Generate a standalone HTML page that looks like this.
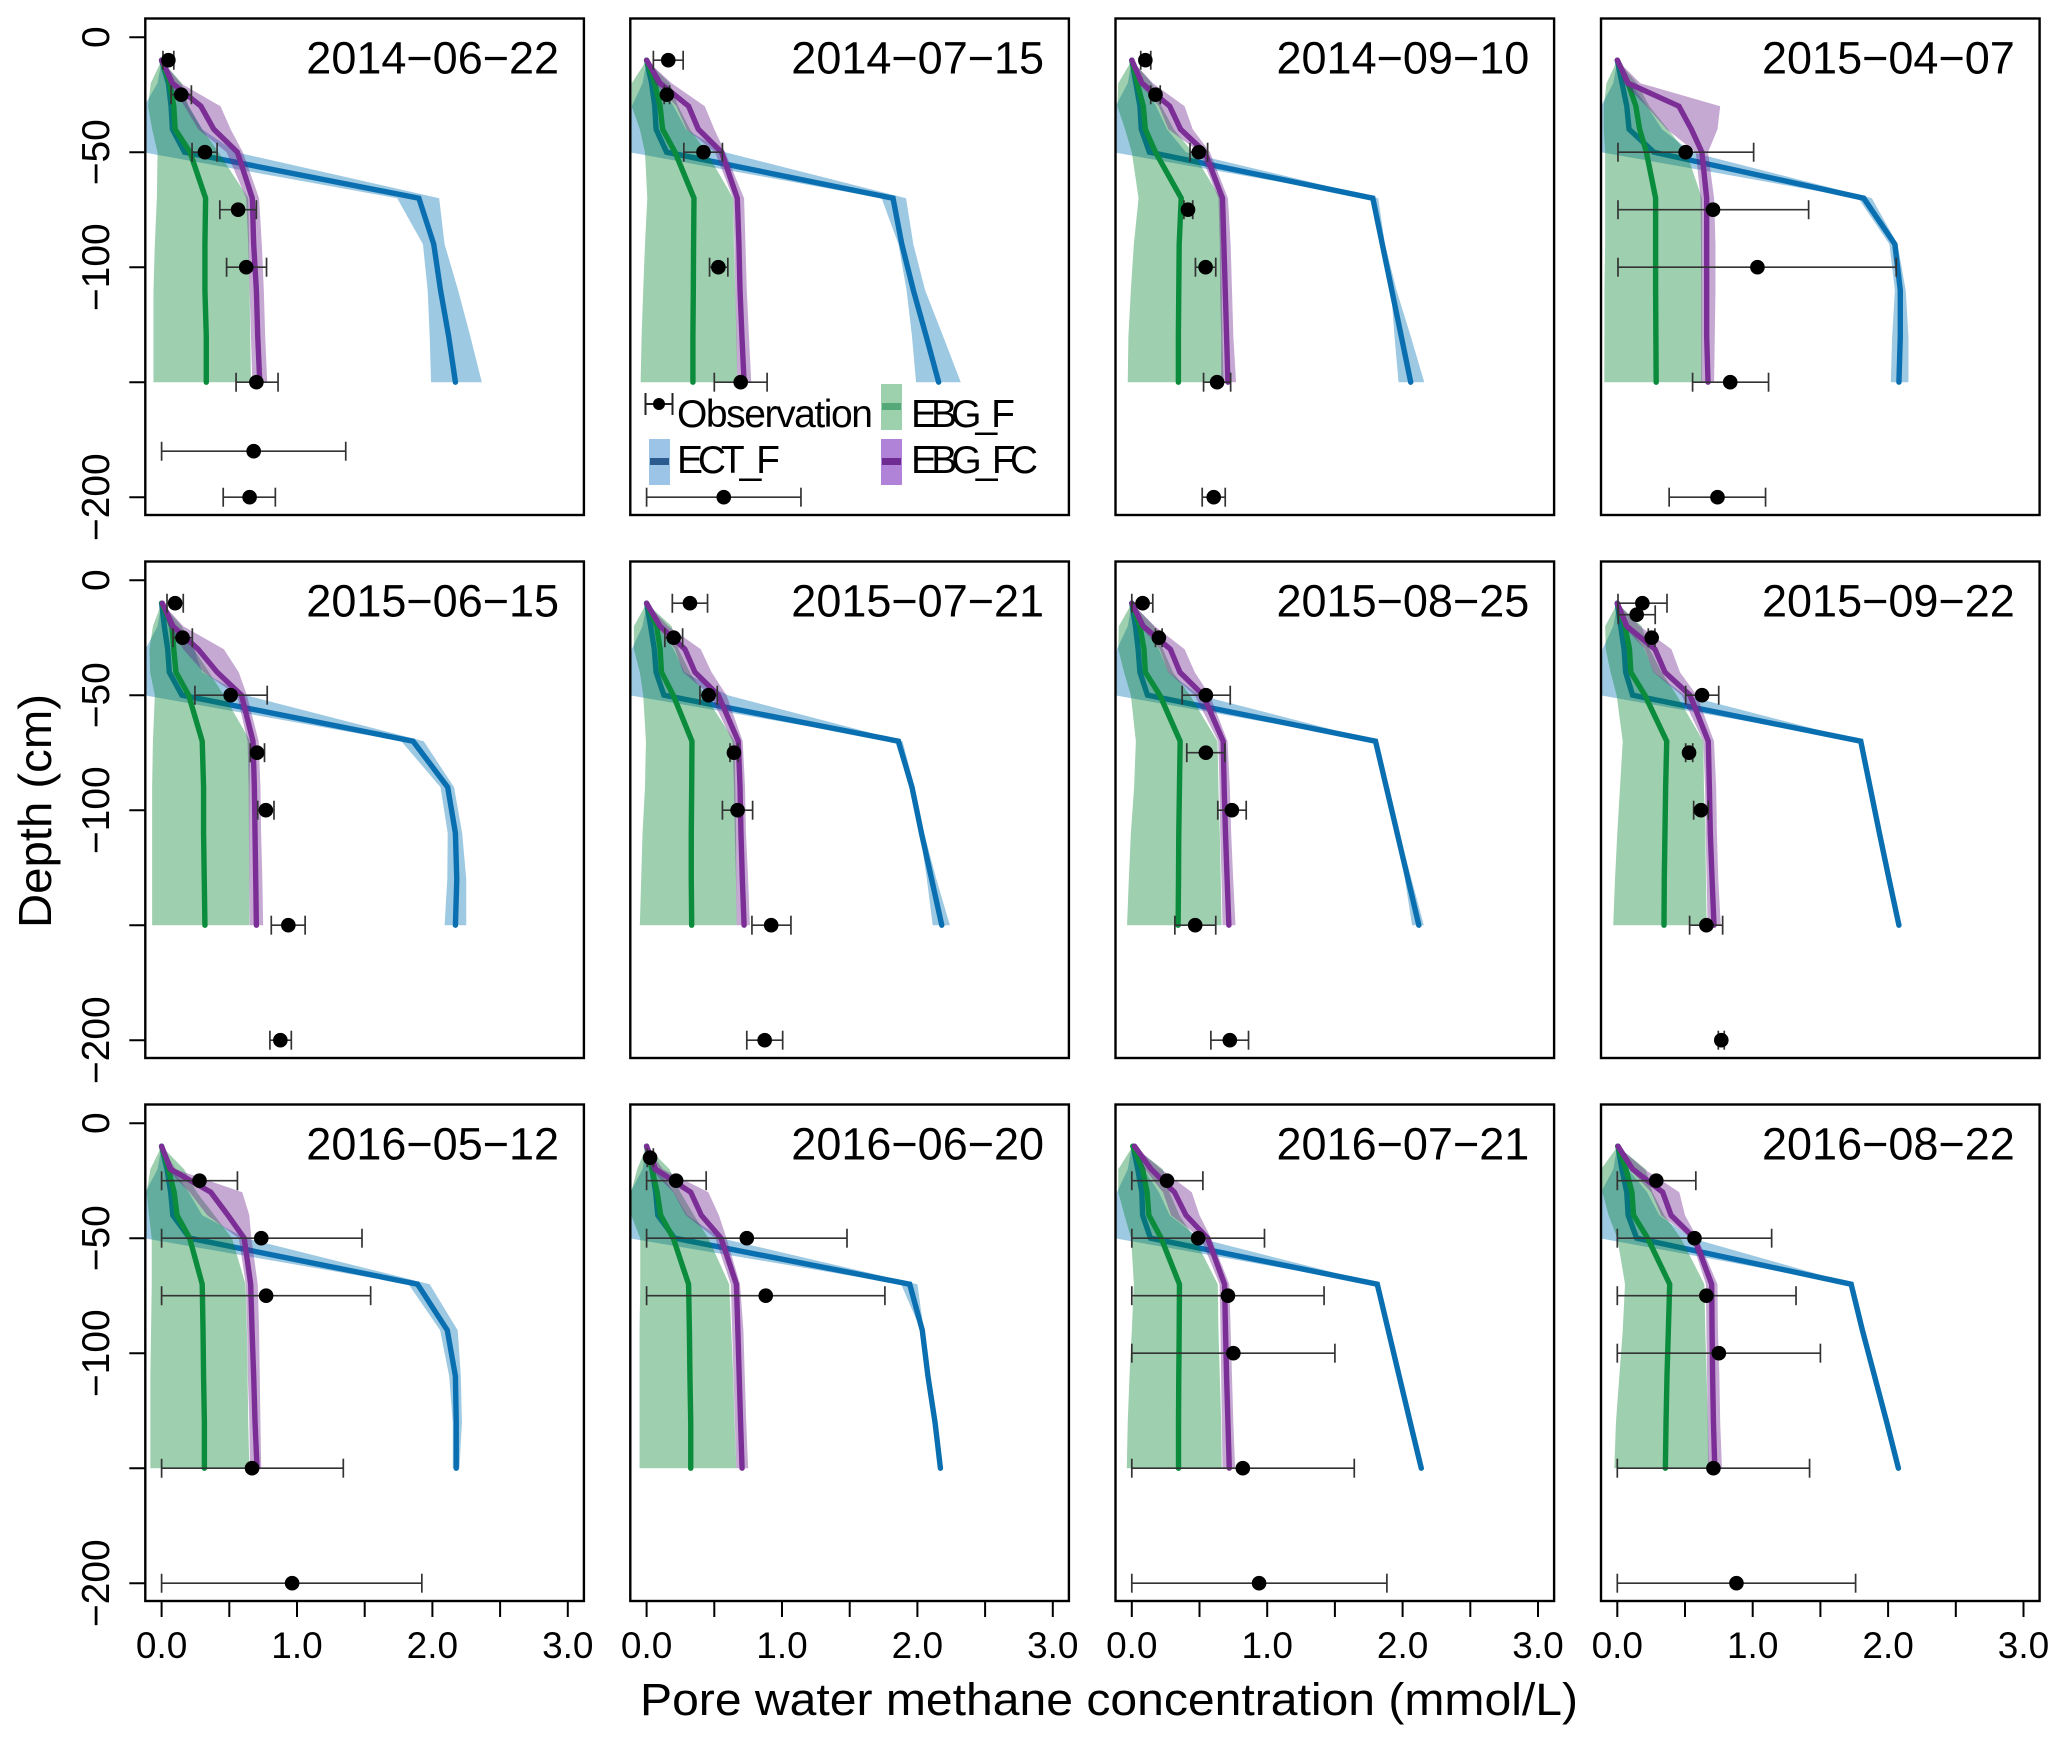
<!DOCTYPE html>
<html lang="en">
<head>
<meta charset="utf-8">
<title>Pore water methane concentration profiles</title>
<style>
html,body{margin:0;padding:0;background:#fff;}
svg{display:block;position:absolute;left:0;top:0;}
text{font-family:"Liberation Sans",Arial,sans-serif;fill:#000;}
</style>
</head>
<body>
<svg id="chart" xmlns="http://www.w3.org/2000/svg" width="2067" height="1744" viewBox="0 0 2067 1744">
  <rect x="0" y="0" width="2067" height="1744" fill="#fff"/>
  <g id="panels"></g>
  <text x="640" y="1715" font-size="45" textLength="938" lengthAdjust="spacingAndGlyphs">Pore water methane concentration (mmol/L)</text>
  <text transform="translate(51,928) rotate(-90)" font-size="46" textLength="234" lengthAdjust="spacingAndGlyphs">Depth (cm)</text>
  <g id="legend">
    <g>
      <line x1="645.5" x2="672.5" y1="404" y2="404" stroke="#222" stroke-width="2"/>
      <line x1="645.5" x2="645.5" y1="393" y2="415" stroke="#222" stroke-width="2"/>
      <line x1="672.5" x2="672.5" y1="393" y2="415" stroke="#222" stroke-width="2"/>
      <circle cx="659" cy="404" r="6" fill="#000"/>
      <text x="677" y="427" font-size="39" textLength="196" lengthAdjust="spacing">Observation</text>
    </g>
    <g>
      <rect x="881" y="384" width="21" height="46" fill="#9dd0ac"/>
      <rect x="882" y="403" width="19" height="7" fill="#55a877"/>
      <text x="911" y="427" font-size="39" textLength="104" lengthAdjust="spacing">EBG_F</text>
    </g>
    <g>
      <rect x="649" y="439" width="21" height="46" fill="#9cc4e6"/>
      <rect x="650" y="458" width="19" height="7" fill="#2b5a8e"/>
      <text x="677" y="473" font-size="39" textLength="103" lengthAdjust="spacing">ECT_F</text>
    </g>
    <g>
      <rect x="881" y="439" width="21" height="46" fill="#b083d8"/>
      <rect x="882" y="458" width="19" height="7" fill="#6f2b91"/>
      <text x="911" y="473" font-size="39" textLength="127" lengthAdjust="spacing">EBG_FC</text>
    </g>
  </g>
</svg>
<script>
var dates = ["2014\u221206\u221222","2014\u221207\u221215","2014\u221209\u221210","2015\u221204\u221207","2015\u221206\u221215","2015\u221207\u221221","2015\u221208\u221225","2015\u221209\u221222","2016\u221205\u221212","2016\u221206\u221220","2016\u221207\u221221","2016\u221208\u221222"];
var modelDepths = [10,20,30,40,50,70,90,110,130,150];
var xTickValues = [0,0.5,1,1.5,2,2.5,3];
var xTickLabels = ["0.0","","1.0","","2.0","","3.0"];
var yTickValues = [0,50,100,150,200];
var yTickLabels = ["0","\u221250","\u2212100","","\u2212200"];

var ectMean = [
[0,.05,.07,.08,.17,1.90,2.01,2.06,2.12,2.17],
[0,.037,.06,.07,.148,1.82,1.885,1.97,2.065,2.157],
[0,.03,.06,.07,.13,1.78,1.85,1.92,1.99,2.06],
[0,.035,.07,.087,.27,1.82,2.05,2.09,2.09,2.08],
[0,.02,.045,.057,.15,1.857,2.113,2.17,2.18,2.17],
[0,.03,.057,.07,.128,1.86,1.96,2.03,2.105,2.18],
[0,.027,.047,.06,.116,1.80,1.88,1.96,2.04,2.12],
[0,.025,.05,.062,.113,1.798,1.867,1.936,2.007,2.08],
[0,.04,.067,.083,.207,1.89,2.11,2.17,2.176,2.176],
[0,.04,.067,.083,.207,1.943,2.036,2.078,2.13,2.17],
[.01,.044,.074,.08,.138,1.813,1.894,1.975,2.056,2.138],
[.005,.034,.07,.08,.143,1.727,1.81,1.9,1.99,2.076]];
var ectLow = [
[0,-.03,-.13,-.13,-.14,1.74,1.93,1.965,1.98,1.99],
[0,-.03,-.11,-.12,-.13,1.736,1.86,1.92,1.96,1.99],
[0,-.03,-.12,-.13,-.14,1.77,1.84,1.915,1.94,1.97],
[0,-.03,-.12,-.12,-.12,1.78,2.01,2.05,2.03,2.02],
[0,-.03,-.12,-.13,-.13,1.77,2.06,2.113,2.11,2.09],
[0,-.03,-.11,-.12,-.13,1.835,1.945,2.02,2.07,2.113],
[0,-.03,-.11,-.12,-.13,1.79,1.87,1.955,2.017,2.07],
[0,-.03,-.11,-.12,-.13,1.79,1.86,1.93,2.0,2.07],
[0,-.03,-.12,-.13,-.13,1.824,2.057,2.124,2.15,2.15],
[0,-.03,-.12,-.13,-.13,1.88,2.026,2.06,2.12,2.16],
[0,-.03,-.11,-.12,-.13,1.79,1.89,1.97,2.055,2.125],
[0,-.03,-.12,-.12,-.13,1.71,1.8,1.885,1.975,2.06]];
var ectHigh = [
[0,.1,.2,.3,.55,2.05,2.09,2.19,2.28,2.365],
[0,.08,.2,.29,.58,1.916,1.97,2.057,2.19,2.32],
[0,.08,.18,.26,.4,1.82,1.87,1.955,2.06,2.16],
[0,.1,.22,.33,.55,1.88,2.07,2.13,2.15,2.15],
[0,.08,.24,.3,.62,1.936,2.16,2.22,2.25,2.25],
[0,.08,.2,.28,.6,1.89,1.98,2.05,2.14,2.24],
[0,.08,.2,.27,.5,1.815,1.895,1.975,2.066,2.157],
[0,.08,.2,.27,.5,1.81,1.875,1.945,2.015,2.09],
[0,.08,.2,.3,.62,1.98,2.187,2.21,2.218,2.2],
[0,.08,.2,.3,.55,2.0,2.047,2.09,2.14,2.18],
[.01,.09,.2,.28,.5,1.83,1.91,1.99,2.075,2.15],
[.005,.08,.22,.31,.55,1.744,1.83,1.915,2.0,2.09]];

var ebgfMean = [
[0,.06,.09,.10,.21,.325,.32,.32,.33,.33],
[0,.06,.1,.118,.21,.35,.347,.345,.342,.342],
[0,.04,.085,.1,.175,.365,.35,.347,.344,.344],
[0,.08,.137,.165,.215,.283,.283,.283,.285,.287],
[0,.076,.09,.106,.2,.30,.31,.31,.315,.32],
[0,.074,.1,.11,.197,.335,.333,.33,.33,.333],
[0,.06,.09,.10,.207,.357,.352,.347,.345,.342],
[0,.057,.09,.1,.204,.365,.357,.352,.347,.345],
[0,.05,.093,.114,.207,.3,.306,.31,.316,.316],
[0,.04,.078,.104,.197,.31,.316,.32,.326,.326],
[.007,.08,.113,.126,.217,.352,.35,.347,.345,.345],
[.003,.064,.108,.12,.224,.387,.377,.367,.36,.355]];
var ebgfLow = [
[0,-.08,-.1,-.07,-.03,-.035,-.05,-.06,-.06,-.06],
[0,-.11,-.11,-.05,-.012,.005,-.012,-.025,-.037,-.044],
[0,-.1,-.107,-.05,0,.05,.015,-.007,-.025,-.03],
[0,-.08,-.1,-.1,-.09,-.09,-.09,-.095,-.095,-.096],
[0,-.064,-.09,-.085,-.05,-.064,-.07,-.07,-.07,-.07],
[0,-.094,-.094,-.05,-.025,-.005,-.012,-.03,-.04,-.05],
[0,-.096,-.1,-.057,-.007,.03,.017,-.007,-.022,-.035],
[0,-.09,-.085,-.05,-.005,.04,.02,0,-.017,-.03],
[0,-.083,-.11,-.093,-.073,-.073,-.078,-.083,-.083,-.083],
[0,-.07,-.114,-.114,-.047,-.047,-.052,-.052,-.052,-.052],
[.007,-.1,-.1,-.054,-.005,.015,0,-.017,-.03,-.037],
[.003,-.12,-.11,-.064,0,.057,.04,.015,-.01,-.022]];
var ebgfHigh = [
[0,.15,.2,.3,.42,.64,.645,.65,.655,.66],
[0,.17,.234,.32,.443,.64,.645,.655,.665,.67],
[0,.15,.22,.31,.45,.655,.66,.665,.67,.677],
[0,.146,.237,.374,.51,.625,.625,.625,.625,.625],
[0,.15,.24,.35,.46,.655,.65,.648,.648,.648],
[0,.185,.235,.32,.43,.65,.655,.66,.662,.665],
[0,.165,.23,.305,.43,.633,.64,.65,.657,.663],
[0,.18,.24,.327,.438,.635,.64,.65,.655,.66],
[0,.166,.26,.39,.52,.62,.63,.635,.64,.648],
[0,.17,.25,.35,.456,.61,.625,.64,.65,.663],
[.007,.23,.278,.352,.463,.635,.64,.65,.66,.665],
[.003,.21,.26,.347,.47,.643,.65,.66,.67,.675]];

var ebgfcMean = [
[0,.08,.29,.385,.56,.67,.68,.70,.71,.725],
[0,.1,.31,.382,.554,.67,.682,.69,.704,.72],
[0,.075,.28,.36,.54,.67,.68,.69,.70,.71],
[0,.08,.455,.547,.625,.66,.66,.66,.66,.67],
[.005,.084,.27,.41,.59,.675,.685,.69,.695,.70],
[0,.1,.283,.357,.53,.677,.69,.697,.707,.72],
[0,.084,.285,.355,.527,.675,.682,.692,.704,.717],
[0,.07,.278,.352,.537,.672,.68,.687,.7,.714],
[0,.067,.363,.49,.61,.658,.668,.68,.69,.705],
[0,.067,.326,.404,.55,.663,.674,.684,.694,.705],
[.02,.143,.315,.4,.56,.685,.692,.7,.71,.72],
[.005,.113,.335,.397,.57,.697,.7,.704,.71,.72]];
var ebgfcLow = [
[0,.05,.17,.27,.48,.625,.64,.65,.66,.67],
[0,.06,.22,.295,.505,.64,.648,.655,.663,.67],
[0,.05,.2,.27,.5,.64,.65,.652,.66,.66],
[0,.045,.215,.365,.58,.615,.618,.62,.62,.62],
[0,.05,.16,.31,.557,.635,.643,.645,.647,.65],
[0,.074,.21,.27,.47,.635,.645,.652,.66,.665],
[0,.06,.207,.268,.465,.638,.648,.653,.663,.67],
[0,.044,.204,.266,.475,.635,.648,.653,.66,.667],
[0,.036,.207,.337,.57,.622,.632,.637,.648,.653],
[0,.03,.197,.29,.508,.622,.632,.642,.652,.663],
[.02,.094,.23,.29,.51,.648,.655,.66,.665,.67],
[.005,.09,.25,.323,.544,.655,.658,.663,.668,.67]];
var ebgfcHigh = [
[0,.14,.435,.51,.6,.72,.74,.755,.765,.78],
[0,.185,.43,.5,.58,.72,.73,.74,.756,.773],
[0,.155,.39,.45,.577,.71,.73,.74,.75,.77],
[0,.17,.76,.74,.67,.715,.725,.725,.72,.715],
[.005,.16,.46,.57,.63,.717,.73,.735,.744,.75],
[0,.16,.4,.48,.59,.71,.727,.734,.75,.763],
[0,.17,.39,.465,.576,.707,.724,.734,.749,.766],
[0,.167,.40,.463,.586,.714,.73,.736,.746,.764],
[0,.104,.596,.648,.663,.71,.72,.725,.73,.736],
[0,.12,.456,.534,.59,.69,.715,.725,.736,.75],
[.02,.217,.443,.5,.586,.72,.73,.74,.75,.763],
[.005,.2,.458,.5,.593,.74,.743,.754,.76,.773]];

var obsDepths = [
[10,25,50,75,100,150,180,200],
[10,25,50,100,150,200],
[10,25,50,75,100,150,200],
[50,75,100,150,200],
[10,25,50,75,100,150,200],
[10,25,50,75,100,150,200],
[10,25,50,75,100,150,200],
[10,15,25,50,75,100,150,200],
[25,50,75,150,200],
[15,25,50,75],
[25,50,75,100,150,200],
[25,50,75,100,150,200]];
var obsMean = [
[.05,.145,.32,.565,.625,.70,.68,.65],
[.16,.15,.42,.53,.695,.57],
[.1,.175,.495,.415,.545,.63,.605],
[.505,.707,1.035,.834,.74],
[.10,.155,.51,.705,.77,.936,.877],
[.32,.2,.458,.645,.672,.92,.872],
[.08,.2,.547,.547,.739,.468,.724],
[.185,.143,.254,.626,.53,.618,.658,.768],
[.28,.736,.772,.668,.964],
[.026,.218,.74,.88],
[.26,.49,.71,.75,.82,.94],
[.288,.57,.658,.75,.71,.88]];
var obsLow = [
[.01,.07,.225,.43,.48,.55,0,.455],
[.05,.13,.275,.465,.50,0],
[.066,.14,.43,.385,.47,.53,.52],
[.005,.005,.005,.556,.383],
[.04,.084,.246,.655,.71,.81,.80],
[.19,.135,.394,.616,.56,.778,.74],
[0,.175,.372,.406,.635,.318,.584],
[.005,.007,.229,.505,.505,.564,.534,.746],
[0,0,0,0,0],
[.005,0,0,0],
[0,0,0,0,0,0],
[0,0,0,0,0,0]];
var obsHigh = [
[.09,.22,.41,.70,.775,.86,1.36,.84],
[.27,.17,.56,.60,.89,1.14],
[.14,.21,.56,.45,.62,.73,.69],
[1.007,1.413,2.06,1.117,1.095],
[.16,.227,.78,.76,.83,1.06,.958],
[.45,.266,.522,.677,.783,1.066,1.005],
[.155,.224,.727,.687,.845,.62,.862],
[.367,.28,.278,.749,.557,.672,.778,.79],
[.56,1.48,1.544,1.342,1.922],
[.05,.44,1.48,1.76],
[.525,.98,1.42,1.5,1.643,1.884],
[.58,1.14,1.32,1.5,1.42,1.76]];

var SVG_NS = "http://www.w3.org/2000/svg";
var panelsRoot = document.getElementById("panels");
var defsNode = document.createElementNS(SVG_NS, "defs");
panelsRoot.appendChild(defsNode);

var colLeft = [145.3, 630.3, 1115.5, 1601];
var rowTop = [18.5, 561.5, 1104.5];
var frameW = 438.6;
var frameH = 496.5;
var xOrigin = 16.3;
var xUnit = 135.4;
var yOrigin = 18.7;
var yUnit = 2.3;

function xScale(col, value) { return colLeft[col] + xOrigin + value * xUnit; }
function yScale(row, depth) { return rowTop[row] + yOrigin + depth * yUnit; }

function mk(tag, attrs, parent) {
  var el = document.createElementNS(SVG_NS, tag);
  for (var k in attrs) { el.setAttribute(k, attrs[k]); }
  parent.appendChild(el);
  return el;
}
function linePoints(col, row, values) {
  return values.map(function (v, i) {
    return xScale(col, v).toFixed(2) + "," + yScale(row, modelDepths[i]).toFixed(2);
  }).join(" ");
}
function bandPoints(col, row, lows, highs) {
  var a = lows.map(function (v, i) {
    return xScale(col, v).toFixed(2) + "," + yScale(row, modelDepths[i]).toFixed(2);
  });
  var b = highs.map(function (v, i) {
    return xScale(col, v).toFixed(2) + "," + yScale(row, modelDepths[i]).toFixed(2);
  }).reverse();
  return a.concat(b).join(" ");
}
function drawBand(parent, col, row, lows, highs, color, name) {
  var el = mk("polygon", { points: bandPoints(col, row, lows, highs), fill: color, "fill-opacity": 0.38, stroke: "none" }, parent);
  
  
}
function drawLine(parent, col, row, values, color, name) {
  var el = mk("polyline", { points: linePoints(col, row, values), fill: "none", stroke: color, "stroke-width": 5.4, "stroke-linejoin": "miter", "stroke-linecap": "round" }, parent);
  
  
}

dates.forEach(function (date, p) {
  var col = p % 4;
  var row = Math.floor(p / 4);
  var left = colLeft[col];
  var top = rowTop[row];

  var panel = mk("g", {}, panelsRoot);
  
  

  var clip = mk("clipPath", { id: "clip" + p }, defsNode);
  mk("rect", { x: left, y: top, width: frameW, height: frameH }, clip);

  var plot = mk("g", { "clip-path": "url(#clip" + p + ")" }, panel);
  
  

  drawBand(plot, col, row, ectLow[p], ectHigh[p], "rgb(0,114,178)", "ect-f-band");
  drawLine(plot, col, row, ectMean[p], "#0a6fb0", "ect-f-line");
  drawBand(plot, col, row, ebgfLow[p], ebgfHigh[p], "rgb(0,130,45)", "ebg-f-band");
  drawLine(plot, col, row, ebgfMean[p], "#0a8c3c", "ebg-f-line");
  drawBand(plot, col, row, ebgfcLow[p], ebgfcHigh[p], "rgb(105,30,140)", "ebg-fc-band");
  drawLine(plot, col, row, ebgfcMean[p], "#7b2f96", "ebg-fc-line");

  obsDepths[p].forEach(function (d, i) {
    var y = yScale(row, d);
    var x1 = xScale(col, obsLow[p][i]);
    var x2 = xScale(col, obsHigh[p][i]);
    var cx = xScale(col, obsMean[p][i]);
    var g = mk("g", { stroke: "#333", "stroke-width": 1.7 }, plot);
    
    
    mk("line", { x1: x1, x2: x2, y1: y, y2: y }, g);
    mk("line", { x1: x1, x2: x1, y1: y - 9.5, y2: y + 9.5 }, g);
    mk("line", { x1: x2, x2: x2, y1: y - 9.5, y2: y + 9.5 }, g);
    mk("circle", { cx: cx, cy: y, r: 7.3, fill: "#000", stroke: "none" }, g);
  });

  var frame = mk("rect", { x: left, y: top, width: frameW, height: frameH, fill: "none", stroke: "#000", "stroke-width": 2.4 }, panel);
  
  

  var title = mk("text", { x: left + 161, y: top + 55, "font-size": 45 }, panel);
  
  
  title.textContent = date;

  if (col === 0) {
    yTickValues.forEach(function (v, i) {
      var y = yScale(row, v);
      var tick = mk("line", { x1: left - 16, x2: left, y1: y, y2: y, stroke: "#000", "stroke-width": 2 }, panel);
      
      
      if (yTickLabels[i]) {
        var lab = mk("text", { transform: "translate(109," + y + ") rotate(-90)", "text-anchor": "middle", "font-size": 39 }, panel);
        
        
        lab.textContent = yTickLabels[i];
      }
    });
  }
  if (row === 2) {
    xTickValues.forEach(function (v, i) {
      var x = xScale(col, v);
      var tick = mk("line", { x1: x, x2: x, y1: top + frameH, y2: top + frameH + 16, stroke: "#000", "stroke-width": 2 }, panel);
      
      
      if (xTickLabels[i]) {
        var lab = mk("text", { x: x, y: 1658, "text-anchor": "middle", "font-size": 37 }, panel);
        
        
        lab.textContent = xTickLabels[i];
      }
    });
  }
});
</script>
</body>
</html>
